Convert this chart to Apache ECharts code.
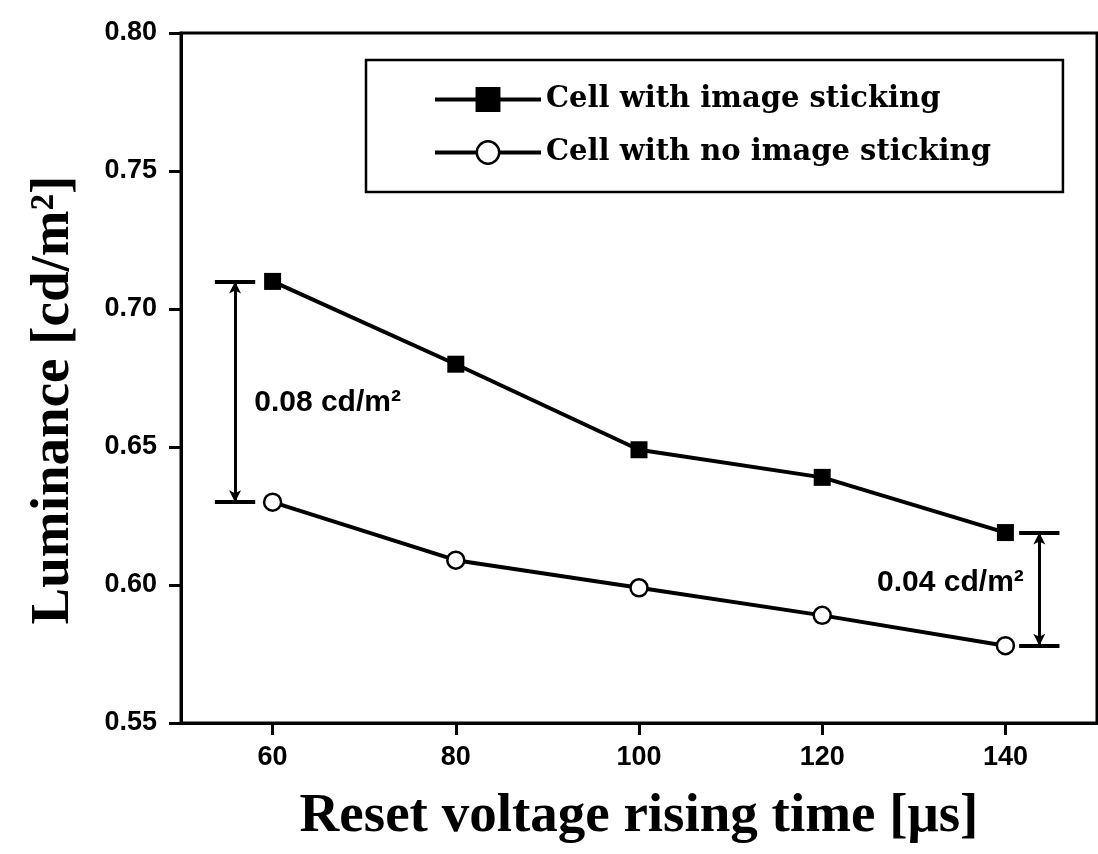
<!DOCTYPE html>
<html>
<head>
<meta charset="utf-8">
<script src="https://cdn.jsdelivr.net/npm/echarts@6/dist/echarts.min.js"></script>
<style>
html,body{margin:0;padding:0;background:#fff;}
#c{width:1098px;height:854px;}
</style>
</head>
<body>
<div id="c"></div>
<script>
// ---- data ----
const riseTime = [60, 80, 100, 120, 140];
const withSticking = [0.710, 0.680, 0.649, 0.639, 0.619];
const noSticking = [0.630, 0.609, 0.599, 0.589, 0.578];
const xTicks = [60, 80, 100, 120, 140];
const seriesNames = ['Cell with image sticking', 'Cell with no image sticking'];
const xTitle = 'Reset voltage rising time [\u03bcs]';
const yTitle = 'Luminance [cd/m\u00b2]';
const diffLabels = ['0.08 cd/m\u00b2', '0.04 cd/m\u00b2'];
// annotation anchors (data units)
const bracketX = [55.9, 143.7];
const capHalf = 2.2;
const labelPos = [[66.0, 0.666], [134.0, 0.6007]];

const sans = '"Liberation Sans", Arial, sans-serif';
const serif = '"Liberation Serif", "Times New Roman", serif';

const chart = echarts.init(document.getElementById('c'), null, {renderer: 'canvas'});

function pairs(xs, ys) { return xs.map((x, i) => [x, ys[i]]); }

const capLines = [];
const arrowLines = [];
[[bracketX[0], withSticking[0], noSticking[0]], [bracketX[1], withSticking[4], noSticking[4]]].forEach(([bx, top, bot]) => {
  capLines.push([{coord: [bx - capHalf, top]}, {coord: [bx + capHalf, top]}]);
  capLines.push([{coord: [bx - capHalf, bot]}, {coord: [bx + capHalf, bot]}]);
  arrowLines.push([{coord: [bx, top]}, {coord: [bx, bot]}]);
});

const option = {
  animation: false,
  backgroundColor: '#fff',
  grid: {left: 181, right: 1, top: 33, bottom: 131, show: true, borderColor: '#000', borderWidth: 3, backgroundColor: 'transparent'},
  legend: {
    data: seriesNames,
    orient: 'vertical',
    left: 366, top: 60,
    padding: [25, 72, 25, 67],
    itemWidth: 106, itemHeight: 28, itemGap: 24,
    borderColor: '#000', borderWidth: 2.5,
    lineStyle: {width: 4},
    itemStyle: {borderWidth: 2.5, borderColor: '#000'},
    textStyle: {fontFamily: '"DejaVu Serif", serif', fontWeight: 'bold', fontSize: 29, color: '#000', lineHeight: 29}
  },
  xAxis: {
    type: 'value', min: 50, max: 150,
    name: xTitle, nameLocation: 'middle', nameGap: 66,
    nameTextStyle: {fontFamily: serif, fontWeight: 'bold', fontSize: 55, color: '#000'},
    axisLine: {lineStyle: {color: '#000', width: 3}},
    axisTick: {show: true, customValues: xTicks, length: 12, lineStyle: {color: '#000', width: 3}},
    axisLabel: {customValues: xTicks, margin: 21, fontFamily: sans, fontWeight: 'bold', fontSize: 27, color: '#000'},
    splitLine: {show: false}
  },
  yAxis: {
    type: 'value', min: 0.55, max: 0.80, interval: 0.05,
    name: yTitle, nameLocation: 'middle', nameGap: 100, nameRotate: 90,
    nameTextStyle: {fontFamily: serif, fontWeight: 'bold', fontSize: 55, color: '#000', padding: [0, 44, 0, 0]},
    axisLine: {lineStyle: {color: '#000', width: 3}},
    axisTick: {length: 12, lineStyle: {color: '#000', width: 3}},
    axisLabel: {margin: 24, fontFamily: sans, fontWeight: 'bold', fontSize: 27, color: '#000', formatter: v => v.toFixed(2)},
    splitLine: {show: false}
  },
  series: [
    {
      name: seriesNames[0], type: 'line', data: pairs(riseTime, withSticking),
      symbol: 'rect', symbolSize: 17,
      lineStyle: {color: '#000', width: 4},
      itemStyle: {color: '#000', borderColor: '#000', borderWidth: 0},
      z: 3
    },
    {
      name: seriesNames[1], type: 'line', data: pairs(riseTime, noSticking),
      symbol: 'circle', symbolSize: 17,
      lineStyle: {color: '#000', width: 4},
      itemStyle: {color: '#fff', borderColor: '#000', borderWidth: 2.5},
      z: 3
    },
    {
      name: 'caps', type: 'line', data: [], silent: true,
      markLine: {
        silent: true, symbol: ['none', 'none'], animation: false,
        label: {show: false},
        lineStyle: {color: '#000', width: 4, type: 'solid'},
        emphasis: {disabled: true},
        data: capLines
      }
    },
    {
      name: 'arrows', type: 'line', data: [], silent: true,
      markLine: {
        silent: true, symbol: ['arrow', 'arrow'], symbolSize: [9, 12], animation: false,
        label: {show: false},
        lineStyle: {color: '#000', width: 3, type: 'solid'},
        emphasis: {disabled: true},
        data: arrowLines
      },
      markPoint: {
        silent: true, symbol: 'circle', symbolSize: 0, animation: false,
        label: {show: true, position: 'inside', fontFamily: sans, fontWeight: 'bold', fontSize: 30, color: '#000', formatter: p => p.name},
        data: labelPos.map((c, i) => ({name: diffLabels[i], coord: c}))
      }
    }
  ]
};
chart.setOption(option);
</script>
</body>
</html>
